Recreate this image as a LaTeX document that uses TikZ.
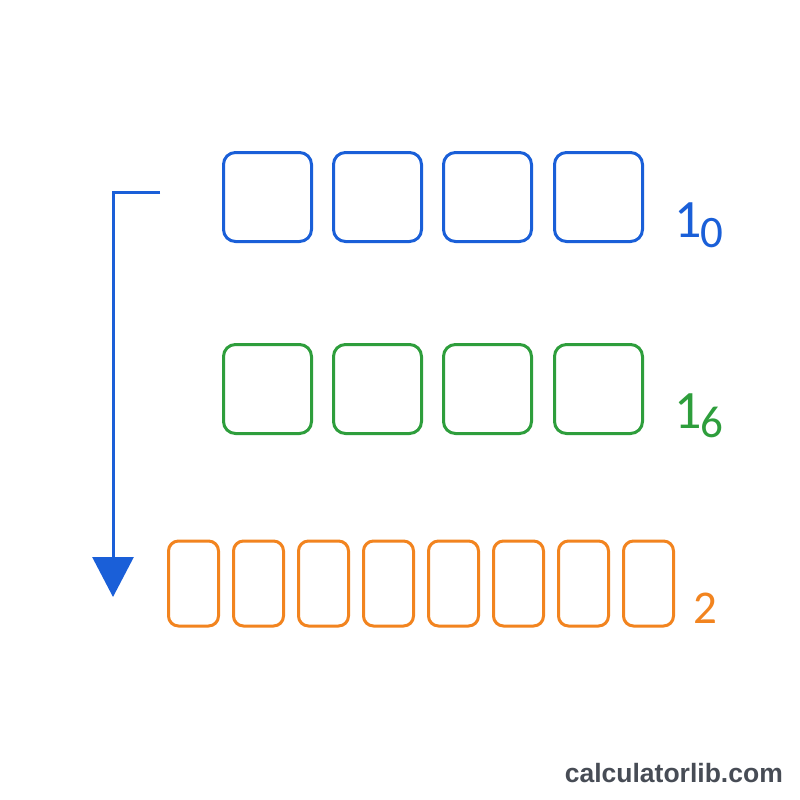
\documentclass[tikz,border=0pt]{standalone}
\usepackage{fontspec}
\setmainfont{Carlito}
\newfontfamily\wmfont{Liberation Sans}
\usetikzlibrary{arrows.meta}
\definecolor{cblue}{HTML}{1A5FD8}
\definecolor{cgreen}{HTML}{2E9E3C}
\definecolor{corange}{HTML}{F2841F}
\definecolor{cgrey}{HTML}{474C55}
\begin{document}
\begin{tikzpicture}[x=1pt,y=1pt,
  sq/.style={draw, line width=3pt, rounded corners=12pt, minimum width=88pt, minimum height=89pt, inner sep=0pt},
  nb/.style={sq, draw=cblue},
  ng/.style={sq, draw=cgreen},
  no/.style={draw=corange, line width=3pt, rounded corners=10pt, minimum width=50pt, minimum height=85pt, inner sep=0pt},
  lbl/.style={inner sep=0pt, anchor=base west},
]
\fill[white] (0,0) rectangle (800,-800);
\useasboundingbox (0,0) rectangle (800,-800);
% blue row
\foreach \i/\x in {1/267.5,2/377.5,3/487.5,4/598.5}
  \node[nb] (b\i) at (\x,-197) {};
% green row
\foreach \i/\x in {1/267.5,2/377.5,3/487.5,4/598.5}
  \node[ng] (g\i) at (\x,-389) {};
% orange row
\foreach \i in {1,...,8}
  \node[no] (o\i) at ({193.5+65*(\i-1)},-583.5) {};
% labels
\node[lbl, text=cblue, font=\fontsize{54}{54}\selectfont] (l1) at (674,-237) {1};
\node[lbl, text=cblue, font=\fontsize{45}{45}\selectfont] (l1s) at (700,-247) {0};
\node[lbl, text=cgreen, font=\fontsize{54}{54}\selectfont] (l2) at (674,-428) {1};
\node[lbl, text=cgreen, font=\fontsize{45}{45}\selectfont] (l2s) at (700,-437) {6};
\node[lbl, text=corange, font=\fontsize{47}{47}\selectfont] (l3) at (693,-623) {2};
% arrow
\coordinate (a0) at (160,-192);
\coordinate (a1) at (113,-192);
\coordinate (a2) at (113,-597);
\draw[cblue, line width=3pt, -{Triangle[width=41pt,length=40pt]}] (a0) -- (a1) -- (a2);
% watermark
\node[inner sep=0pt, anchor=base east, text=cgrey, font=\wmfont\bfseries\fontsize{26.5}{26.5}\selectfont] (wm) at (783,-782) {calculatorlib.com};
\end{tikzpicture}
\end{document}
